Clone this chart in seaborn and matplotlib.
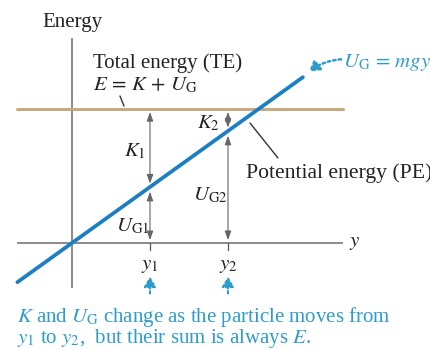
import matplotlib
matplotlib.use("Agg")
import matplotlib.pyplot as plt
import seaborn as sns
import numpy as np

# --- values shown in the diagram ---
positions = [1.0, 2.0]                 # y1, y2
position_labels = ["$y_1$", "$y_2$"]
kinetic_labels = ["$K_1$", "$K_2$"]
potential_labels = ["$U_{\\mathrm{G}1}$", "$U_{\\mathrm{G}2}$"]
mg = 1.0                               # slope of U_G = mgy
total_energy = 2.4                     # E = K + U_G
pe_range = [-0.70, 2.96]               # extent of the potential-energy line
te_range = [-0.70, 3.47]               # extent of the total-energy line

BLUE = "#1b7fc1"
TEXT_BLUE = "#2e9ccb"
TAN = "#c9a980"
GRAY = "#8a8a8a"
DARK = "#333333"

sns.set_theme(style="white")
plt.rcParams["font.family"] = ["Liberation Serif", "DejaVu Serif"]
plt.rcParams["mathtext.fontset"] = "stix"

fig = plt.figure(figsize=(4.31, 3.5), dpi=100)
ax = fig.add_axes([0, 0, 1, 1])
ax.set_xlim(-0.923, 4.603)
ax.set_ylim(-1.911, 4.339)
ax.axis("off")

FS = 15

# coordinate axes
ax.plot([0, 0], [-0.80, 3.66], color=GRAY, lw=1.4, solid_capstyle="butt", zorder=1)
ax.plot([-0.70, 3.47], [0, 0], color=GRAY, lw=1.4, solid_capstyle="butt", zorder=1)
ax.text(-0.385, 3.93, "Energy", fontsize=FS, ha="left", va="center", color="#222222")
ax.text(3.55, 0.0, "$y$", fontsize=FS, ha="left", va="center", color="#222222")

# total energy (horizontal) and potential energy (mgy) lines
sns.lineplot(x=te_range, y=[total_energy, total_energy], ax=ax, color=TAN, lw=2.2, zorder=2)
pe_x = np.array(pe_range)
sns.lineplot(x=pe_x, y=mg * pe_x, ax=ax, color=BLUE, lw=2.7, zorder=4)

# energy bars at y1 and y2
gap = 0.06
head = dict(arrowstyle="<|-|>,head_length=0.45,head_width=0.16", color="#666666",
            lw=0.8, shrinkA=0, shrinkB=0)
for i, y in enumerate(positions):
    u = mg * y
    ax.annotate("", xy=(y, total_energy - gap), xytext=(y, u + gap), arrowprops=head, zorder=3)
    ax.annotate("", xy=(y, u - gap * 1.4), xytext=(y, 0.05), arrowprops=head, zorder=3)
    ax.plot([y, y], [0, -0.13], color="#555555", lw=0.9, zorder=3)
    ax.text(y, -0.41, position_labels[i], fontsize=FS, ha="center", va="center", color="#222222")
    ax.annotate("", xy=(y, -0.60), xytext=(y, -0.90),
                arrowprops=dict(arrowstyle="-|>,head_length=0.5,head_width=0.3",
                                color=TEXT_BLUE, lw=1.6, linestyle=(0, (1, 1.2)),
                                shrinkA=0, shrinkB=0))

ax.text(0.95, 1.64, kinetic_labels[0], fontsize=FS, ha="right", va="center", color="#222222")
ax.text(0.78, 0.30, potential_labels[0], fontsize=FS, ha="center", va="center", color="#222222")
ax.text(1.90, 2.14, kinetic_labels[1], fontsize=FS, ha="right", va="center", color="#222222")
ax.text(1.77, 0.85, potential_labels[1], fontsize=FS, ha="center", va="center", color="#222222")

# total energy label
ax.text(0.27, 3.125, "Total energy (TE)", fontsize=FS, ha="left", va="baseline", color="#222222")
ax.text(0.27, 2.73, "$E\\,=\\,K\\,+\\,U_{\\mathrm{G}}$", fontsize=FS, ha="left",
        va="baseline", color="#222222")
ax.plot([0.615, 0.667], [2.625, 2.446], color=DARK, lw=1.0)

# potential energy label
ax.text(2.23, 1.16, "Potential energy (PE)", fontsize=15.6, ha="left", va="baseline", color="#222222")
ax.plot([2.282, 2.641], [2.143, 1.518], color=DARK, lw=1.0)

# U_G = mgy callout
ax.text(3.48, 3.23, "$U_{\\mathrm{G}}\\,=\\,mgy$", fontsize=FS, ha="left", va="center", color=TEXT_BLUE)
ax.annotate("", xy=(3.04, 3.06), xytext=(3.45, 3.28),
            arrowprops=dict(arrowstyle="-|>,head_length=0.5,head_width=0.3",
                            color=TEXT_BLUE, lw=1.8, linestyle=(0, (1, 1.2)),
                            connectionstyle="arc3,rad=0.15", shrinkA=0, shrinkB=0))

# caption
ax.text(-0.705, (243 - 322) / 56, "$K$ and $U_{\\mathrm{G}}$ change as the particle moves from",
        fontsize=FS, ha="left", va="baseline", color=TEXT_BLUE)
ax.text(-0.705, (243 - 343) / 56, "$y_1$ to $y_2$,  but their sum is always $E$.",
        fontsize=FS, ha="left", va="baseline", color=TEXT_BLUE)

fig.savefig("out.png", dpi=100)
